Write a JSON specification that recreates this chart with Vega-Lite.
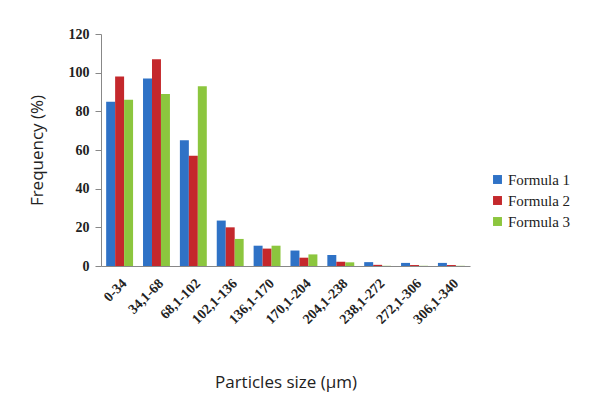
{
  "$schema": "https://vega.github.io/schema/vega-lite/v6.json",
  "autosize": {"type": "none"},
  "padding": {"left": 101, "top": 34, "right": 135, "bottom": 139},
  "width": 369,
  "height": 232,
  "background": "#ffffff",
  "data": {
    "values": [
      {"size": "0-34", "formula": "Formula 1", "freq": 85},
      {"size": "0-34", "formula": "Formula 2", "freq": 98},
      {"size": "0-34", "formula": "Formula 3", "freq": 86},
      {"size": "34,1-68", "formula": "Formula 1", "freq": 97},
      {"size": "34,1-68", "formula": "Formula 2", "freq": 107},
      {"size": "34,1-68", "formula": "Formula 3", "freq": 89},
      {"size": "68,1-102", "formula": "Formula 1", "freq": 65},
      {"size": "68,1-102", "formula": "Formula 2", "freq": 57},
      {"size": "68,1-102", "formula": "Formula 3", "freq": 93},
      {"size": "102,1-136", "formula": "Formula 1", "freq": 23.5},
      {"size": "102,1-136", "formula": "Formula 2", "freq": 20},
      {"size": "102,1-136", "formula": "Formula 3", "freq": 14},
      {"size": "136,1-170", "formula": "Formula 1", "freq": 10.5},
      {"size": "136,1-170", "formula": "Formula 2", "freq": 9},
      {"size": "136,1-170", "formula": "Formula 3", "freq": 10.5},
      {"size": "170,1-204", "formula": "Formula 1", "freq": 8},
      {"size": "170,1-204", "formula": "Formula 2", "freq": 4.3},
      {"size": "170,1-204", "formula": "Formula 3", "freq": 6},
      {"size": "204,1-238", "formula": "Formula 1", "freq": 5.7},
      {"size": "204,1-238", "formula": "Formula 2", "freq": 2.2},
      {"size": "204,1-238", "formula": "Formula 3", "freq": 1.9},
      {"size": "238,1-272", "formula": "Formula 1", "freq": 2},
      {"size": "238,1-272", "formula": "Formula 2", "freq": 0.6},
      {"size": "238,1-272", "formula": "Formula 3", "freq": 0.1},
      {"size": "272,1-306", "formula": "Formula 1", "freq": 1.6},
      {"size": "272,1-306", "formula": "Formula 2", "freq": 0.5},
      {"size": "272,1-306", "formula": "Formula 3", "freq": 0.1},
      {"size": "306,1-340", "formula": "Formula 1", "freq": 1.6},
      {"size": "306,1-340", "formula": "Formula 2", "freq": 0.5},
      {"size": "306,1-340", "formula": "Formula 3", "freq": 0.1}
    ]
  },
  "mark": {"type": "bar"},
  "encoding": {
    "x": {
      "field": "size",
      "type": "nominal",
      "sort": null,
      "scale": {"paddingInner": 0.27, "paddingOuter": 0.14},
      "axis": {
        "title": "Particles size (µm)",
        "titleFont": "Open Sans",
        "titleFontSize": 17,
        "titleFontWeight": "normal",
        "titleColor": "#222222",
        "titlePadding": 48,
        "labelAngle": -45,
        "labelFont": "Liberation Serif",
        "labelFontSize": 14,
        "labelFontWeight": "bold",
        "labelColor": "#222222",
        "ticks": false,
        "labelPadding": 10,
        "domainColor": "#888888"
      }
    },
    "xOffset": {"field": "formula", "type": "nominal"},
    "y": {
      "field": "freq",
      "type": "quantitative",
      "scale": {"domain": [0, 120]},
      "axis": {
        "title": "Frequency (%)",
        "titleFont": "Open Sans",
        "titleFontSize": 17,
        "titleFontWeight": "normal",
        "titleColor": "#222222",
        "titlePadding": 22,
        "values": [0, 20, 40, 60, 80, 100, 120],
        "grid": false,
        "labelFont": "Liberation Serif",
        "labelFontSize": 14,
        "labelFontWeight": "bold",
        "labelColor": "#222222",
        "tickColor": "#888888",
        "tickSize": 6,
        "domainColor": "#888888",
        "labelPadding": 6
      }
    },
    "color": {
      "field": "formula",
      "type": "nominal",
      "scale": {"range": ["#2f72c6", "#c4282c", "#8cc63e"]},
      "legend": {
        "title": null,
        "orient": "none",
        "legendX": 389,
        "legendY": 138,
        "symbolType": "square",
        "symbolSize": 80,
        "labelFont": "Liberation Serif",
        "labelFontSize": 15,
        "labelColor": "#222222",
        "labelOffset": 3,
        "rowPadding": 5
      }
    }
  },
  "config": {"view": {"stroke": null}}
}
